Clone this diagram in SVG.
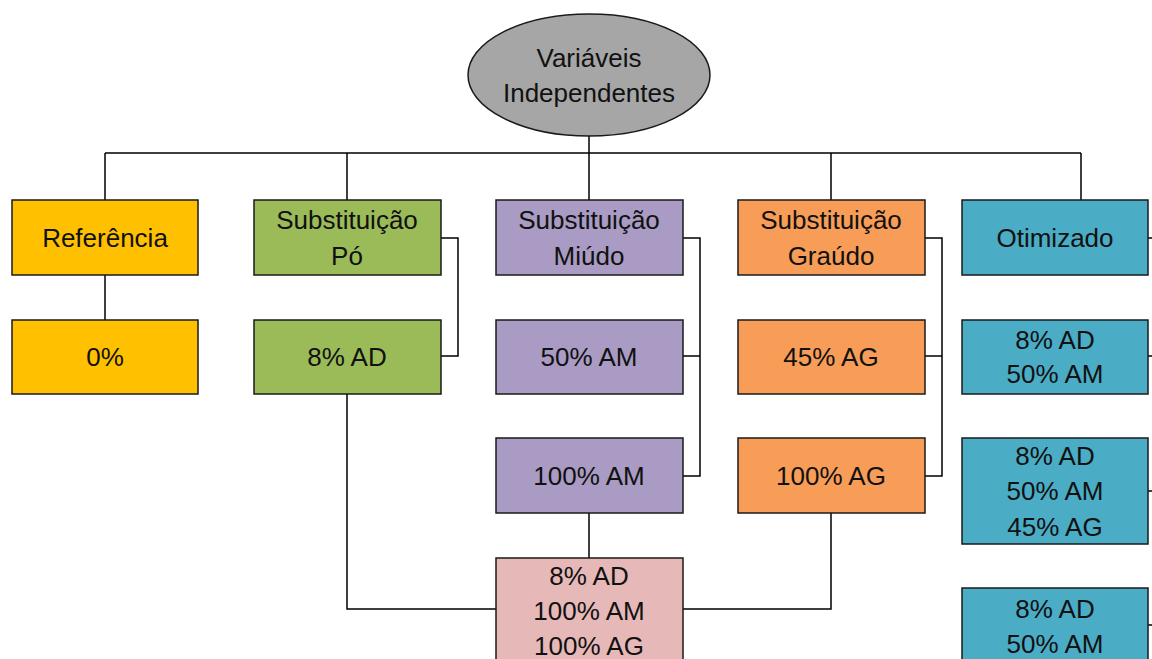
<svg xmlns="http://www.w3.org/2000/svg" width="1152" height="659" viewBox="0 0 1152 659">
<style>
.b{stroke:#1a1a1a;stroke-width:1.5}
.t{font-family:"Liberation Sans",Arial,sans-serif;font-size:26px;fill:#111;text-anchor:middle;dominant-baseline:central}
.c{fill:none;stroke:#000;stroke-width:1.5}
.yel{fill:#FFC000}.grn{fill:#9BBB59}.pur{fill:#A99BC3}.org{fill:#F79D57}.blu{fill:#4BACC6}.pnk{fill:#E6B9B8}
</style>
<rect width="1152" height="659" fill="#fff"/>
<g id="connectors" class="c">
<path d="M105 153H1081M589 136V200M105 153V200M347 153V200M831 153V200M1081 153V200"/>
<path d="M105 275V320"/>
<path d="M441 238H458V356H441"/>
<path d="M347 394V609H496"/>
<path d="M683 238H700V476H683M700 356H683"/>
<path d="M589 513V558"/>
<path d="M925 238H942V476H925M942 356H925"/>
<path d="M831 513V609H683"/>
<path d="M1148 238H1160M1148 356H1160M1148 491H1160M1148 625H1160"/>
</g>
<g id="root"><ellipse cx="589" cy="75" rx="121" ry="61" fill="#A6A6A6" class="b"/><text class="t" x="589" y="58">Variáveis</text><text class="t" x="589" y="93">Independentes</text></g>
<g id="ref"><rect x="12" y="200" width="186" height="75" class="b yel"/><text class="t" x="105" y="238">Referência</text></g>
<g id="ref0"><rect x="12" y="320" width="186" height="74" class="b yel"/><text class="t" x="105" y="357">0%</text></g>
<g id="po"><rect x="254" y="200" width="187" height="75" class="b grn"/><text class="t" x="347" y="220">Substituição</text><text class="t" x="347" y="256">Pó</text></g>
<g id="po8"><rect x="254" y="320" width="187" height="74" class="b grn"/><text class="t" x="347" y="357">8% AD</text></g>
<g id="miudo"><rect x="496" y="200" width="187" height="75" class="b pur"/><text class="t" x="589" y="220">Substituição</text><text class="t" x="589" y="256">Miúdo</text></g>
<g id="am50"><rect x="496" y="320" width="187" height="74" class="b pur"/><text class="t" x="589" y="357">50% AM</text></g>
<g id="am100"><rect x="496" y="438" width="187" height="75" class="b pur"/><text class="t" x="589" y="476">100% AM</text></g>
<g id="graudo"><rect x="738" y="200" width="187" height="75" class="b org"/><text class="t" x="831" y="220">Substituição</text><text class="t" x="831" y="256">Graúdo</text></g>
<g id="ag45"><rect x="738" y="320" width="187" height="74" class="b org"/><text class="t" x="831" y="357">45% AG</text></g>
<g id="ag100"><rect x="738" y="438" width="187" height="75" class="b org"/><text class="t" x="831" y="476">100% AG</text></g>
<g id="mix"><rect x="496" y="558" width="187" height="110" class="b pnk"/><text class="t" x="589" y="576">8% AD</text><text class="t" x="589" y="611">100% AM</text><text class="t" x="589" y="646">100% AG</text></g>
<g id="otim"><rect x="962" y="200" width="186" height="75" class="b blu"/><text class="t" x="1055" y="238">Otimizado</text></g>
<g id="o1"><rect x="962" y="320" width="186" height="74" class="b blu"/><text class="t" x="1055" y="340">8% AD</text><text class="t" x="1055" y="374">50% AM</text></g>
<g id="o2"><rect x="962" y="438" width="186" height="106" class="b blu"/><text class="t" x="1055" y="456">8% AD</text><text class="t" x="1055" y="491">50% AM</text><text class="t" x="1055" y="527">45% AG</text></g>
<g id="o3"><rect x="962" y="588" width="186" height="80" class="b blu"/><text class="t" x="1055" y="609">8% AD</text><text class="t" x="1055" y="644">50% AM</text></g>
</svg>
